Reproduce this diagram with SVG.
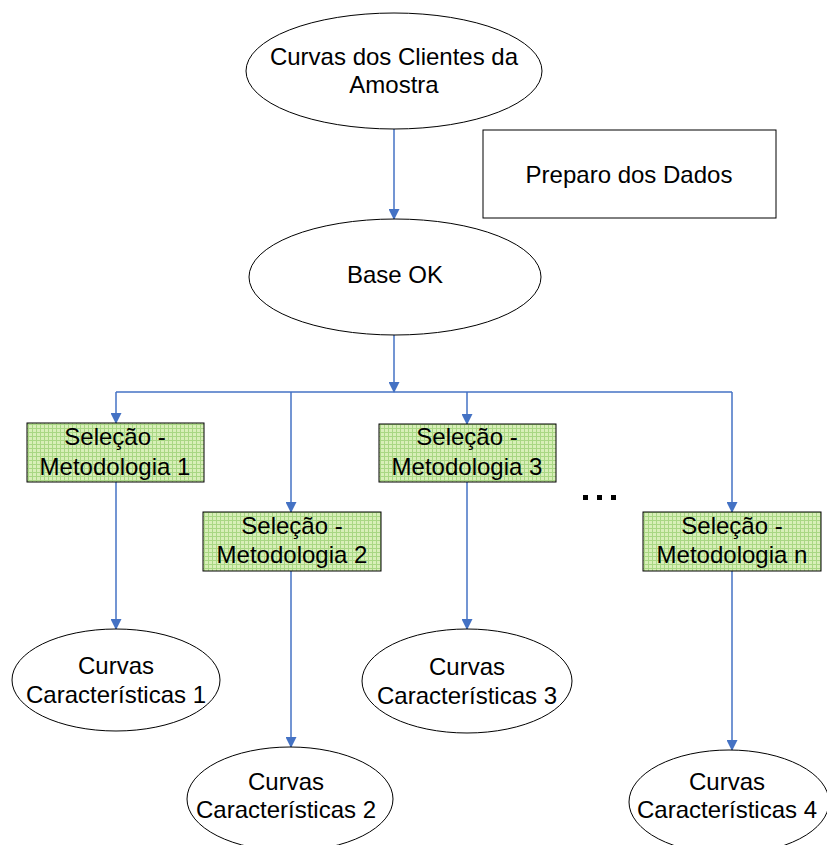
<svg xmlns="http://www.w3.org/2000/svg" width="827" height="845" viewBox="0 0 827 845">
  <style>
    .lbl { font-family: "Liberation Sans", Arial, sans-serif; font-size: 24px; fill: #000; text-anchor: middle; }
    .oval { fill: #fff; stroke: #000; stroke-width: 1; }
    .box { fill: #fff; stroke: #000; stroke-width: 1; }
    .sel { fill: url(#grid); stroke: #000; stroke-width: 1; }
    .wire { fill: none; stroke: #4472c4; stroke-width: 1.5; }
    .arrow { fill: none; stroke: #4472c4; stroke-width: 1.5; marker-end: url(#tip); }
  </style>
  <defs>
    <!-- small-grid fill for the selection boxes -->
    <pattern id="grid" width="4" height="4" patternUnits="userSpaceOnUse">
      <rect width="4" height="4" fill="#d8efb8"/>
      <path d="M0 0.5H4M0.5 0V4" stroke="#a9d784" stroke-width="1"/>
    </pattern>
    <marker id="tip" markerWidth="11" markerHeight="11" refX="10" refY="5.5" orient="auto" markerUnits="userSpaceOnUse">
      <path d="M0 0L11 5.5L0 11Z" fill="#4472c4"/>
    </marker>
  </defs>

  <rect width="827" height="845" fill="#fff"/>

  <!-- connectors -->
  <g id="connectors">
    <line class="arrow" x1="394" y1="129" x2="394" y2="219"/>
    <line class="arrow" x1="394" y1="335" x2="394" y2="392"/>
    <line class="wire" x1="116" y1="392" x2="732" y2="392"/>
    <line class="arrow" x1="116" y1="392" x2="116" y2="423"/>
    <line class="arrow" x1="291" y1="392" x2="291" y2="512"/>
    <line class="arrow" x1="467" y1="392" x2="467" y2="424"/>
    <line class="arrow" x1="732" y1="392" x2="732" y2="512"/>
    <line class="arrow" x1="116" y1="482" x2="116" y2="629"/>
    <line class="arrow" x1="291" y1="571" x2="291" y2="747"/>
    <line class="arrow" x1="467" y1="482" x2="467" y2="629"/>
    <line class="arrow" x1="732" y1="571" x2="732" y2="750"/>
  </g>

  <g id="curvas-clientes">
    <ellipse class="oval" cx="394" cy="71" rx="148" ry="58"/>
    <text class="lbl" x="394" y="65">Curvas dos Clientes da</text>
    <text class="lbl" x="394" y="93">Amostra</text>
  </g>

  <g id="preparo-dados">
    <rect class="box" x="483" y="130" width="293" height="88"/>
    <text class="lbl" x="629" y="183">Preparo dos Dados</text>
  </g>

  <g id="base-ok">
    <ellipse class="oval" cx="395" cy="277" rx="146" ry="58"/>
    <text class="lbl" x="395" y="283">Base OK</text>
  </g>

  <g id="selecao-1">
    <rect class="sel" x="27" y="423" width="177" height="59"/>
    <text class="lbl" x="115" y="445">Seleção -</text>
    <text class="lbl" x="115" y="475">Metodologia 1</text>
  </g>

  <g id="selecao-2">
    <rect class="sel" x="203" y="512" width="178" height="59"/>
    <text class="lbl" x="292" y="534">Seleção -</text>
    <text class="lbl" x="292" y="563">Metodologia 2</text>
  </g>

  <g id="selecao-3">
    <rect class="sel" x="379" y="424" width="177" height="58"/>
    <text class="lbl" x="467" y="445">Seleção -</text>
    <text class="lbl" x="467" y="475">Metodologia 3</text>
  </g>

  <g id="selecao-n">
    <rect class="sel" x="643" y="512" width="178" height="59"/>
    <text class="lbl" x="732" y="534">Seleção -</text>
    <text class="lbl" x="732" y="563">Metodologia n</text>
  </g>

  <g id="ellipsis">
    <rect x="583" y="495" width="5" height="5" fill="#000"/>
    <rect x="597" y="495" width="5" height="5" fill="#000"/>
    <rect x="611" y="495" width="5" height="5" fill="#000"/>
  </g>

  <g id="curvas-1">
    <ellipse class="oval" cx="116" cy="680" rx="104" ry="51"/>
    <text class="lbl" x="116" y="674">Curvas</text>
    <text class="lbl" x="116" y="703">Características 1</text>
  </g>

  <g id="curvas-2">
    <ellipse class="oval" cx="290" cy="799" rx="103" ry="52"/>
    <text class="lbl" x="286" y="790">Curvas</text>
    <text class="lbl" x="286" y="818">Características 2</text>
  </g>

  <g id="curvas-3">
    <ellipse class="oval" cx="467" cy="681" rx="105" ry="52"/>
    <text class="lbl" x="467" y="675">Curvas</text>
    <text class="lbl" x="467" y="704">Características 3</text>
  </g>

  <g id="curvas-4">
    <ellipse class="oval" cx="729" cy="802" rx="100" ry="52"/>
    <text class="lbl" x="727" y="790">Curvas</text>
    <text class="lbl" x="727" y="818">Características 4</text>
  </g>
</svg>
